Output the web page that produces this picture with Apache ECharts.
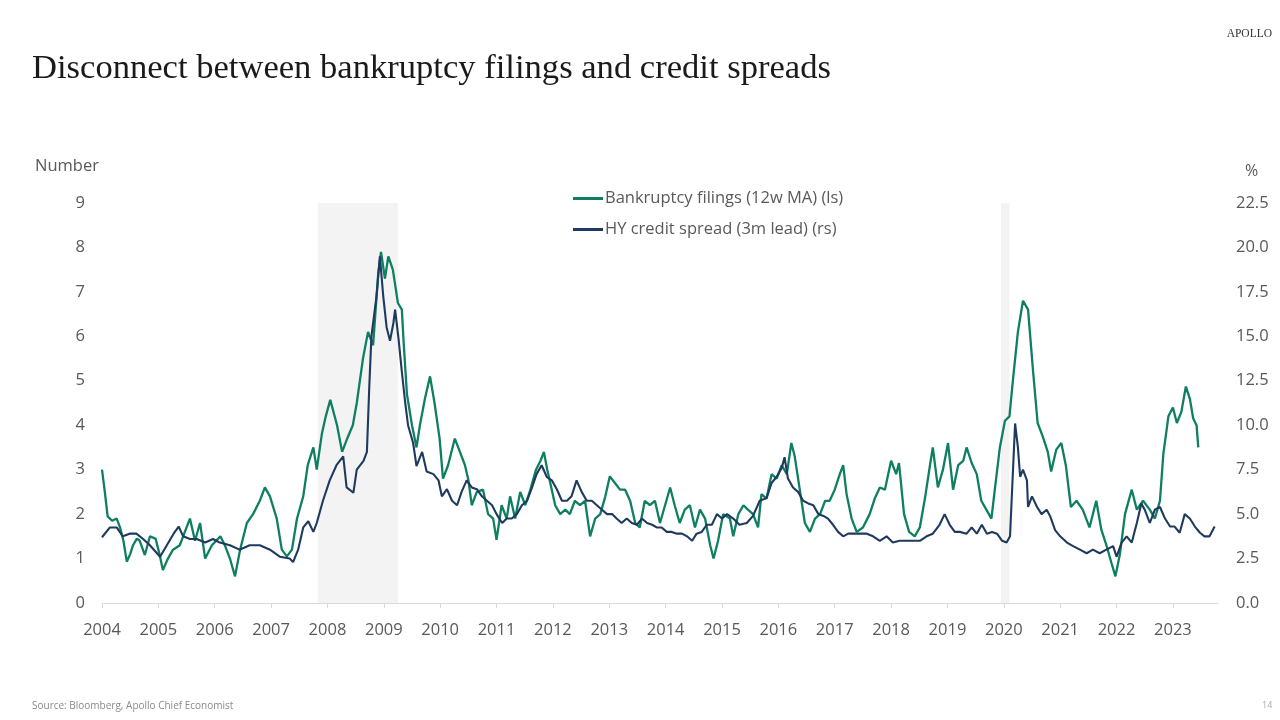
<!DOCTYPE html>
<html>
<head>
<meta charset="utf-8">
<script src="https://cdn.jsdelivr.net/npm/echarts@6/dist/echarts.min.js"></script>
<style>
  html, body { margin: 0; padding: 0; background: #ffffff; }
  #chart { width: 1280px; height: 720px; }
</style>
</head>
<body>
<div id="chart"></div>
<script>
// ---- Data (decimal years) ----
const years = [2004,2005,2006,2007,2008,2009,2010,2011,2012,2013,2014,2015,2016,2017,2018,2019,2020,2021,2022,2023];

const bankruptcyDates = [2004.00,2004.05,2004.10,2004.18,2004.26,2004.32,2004.38,2004.44,2004.50,2004.55,2004.62,2004.67,2004.76,2004.85,2004.95,2005.02,2005.08,2005.17,2005.26,2005.38,2005.47,2005.56,2005.65,2005.74,2005.83,2005.95,2006.10,2006.18,2006.27,2006.36,2006.45,2006.57,2006.68,2006.80,2006.89,2006.98,2007.10,2007.19,2007.28,2007.37,2007.46,2007.57,2007.65,2007.75,2007.81,2007.90,2007.97,2008.05,2008.17,2008.26,2008.35,2008.45,2008.52,2008.63,2008.72,2008.81,2008.90,2008.95,2009.02,2009.08,2009.16,2009.25,2009.32,2009.35,2009.41,2009.50,2009.58,2009.64,2009.73,2009.82,2009.90,2009.99,2010.05,2010.14,2010.26,2010.35,2010.44,2010.50,2010.56,2010.65,2010.76,2010.85,2010.94,2011.00,2011.09,2011.18,2011.24,2011.33,2011.42,2011.51,2011.60,2011.70,2011.78,2011.84,2011.90,2011.98,2012.04,2012.13,2012.22,2012.30,2012.39,2012.48,2012.57,2012.66,2012.75,2012.84,2012.93,2013.01,2013.10,2013.19,2013.28,2013.37,2013.46,2013.54,2013.63,2013.72,2013.81,2013.90,2013.99,2014.08,2014.16,2014.25,2014.34,2014.43,2014.52,2014.61,2014.70,2014.79,2014.85,2014.93,2015.02,2015.14,2015.20,2015.29,2015.38,2015.46,2015.55,2015.64,2015.70,2015.79,2015.88,2015.97,2016.06,2016.15,2016.23,2016.29,2016.38,2016.47,2016.56,2016.65,2016.74,2016.83,2016.91,2017.00,2017.09,2017.15,2017.21,2017.30,2017.39,2017.50,2017.62,2017.71,2017.80,2017.89,2018.00,2018.09,2018.14,2018.23,2018.32,2018.42,2018.51,2018.60,2018.69,2018.74,2018.83,2018.92,2019.01,2019.10,2019.19,2019.28,2019.34,2019.43,2019.52,2019.60,2019.69,2019.78,2019.84,2019.93,2020.02,2020.10,2020.16,2020.25,2020.34,2020.43,2020.52,2020.60,2020.69,2020.78,2020.84,2020.93,2021.02,2021.10,2021.19,2021.29,2021.40,2021.52,2021.64,2021.73,2021.82,2021.91,2021.98,2022.06,2022.15,2022.27,2022.36,2022.47,2022.59,2022.68,2022.77,2022.83,2022.92,2023.00,2023.07,2023.15,2023.23,2023.30,2023.36,2023.42,2023.45];
const bankruptcyValues = [3.0,2.5,1.95,1.85,1.9,1.7,1.4,0.93,1.1,1.3,1.45,1.4,1.08,1.5,1.45,1.1,0.74,1.0,1.2,1.3,1.6,1.9,1.4,1.8,1.0,1.3,1.5,1.3,1.0,0.6,1.2,1.8,2.0,2.3,2.6,2.4,1.9,1.2,1.05,1.2,1.9,2.4,3.1,3.5,3.0,3.8,4.2,4.57,4.0,3.4,3.7,4.0,4.5,5.5,6.1,5.8,7.4,7.9,7.3,7.8,7.5,6.75,6.6,5.9,4.7,4.0,3.5,4.0,4.6,5.1,4.5,3.7,2.8,3.1,3.7,3.4,3.1,2.77,2.2,2.5,2.55,2.0,1.9,1.42,2.2,1.9,2.4,1.9,2.5,2.2,2.55,3.0,3.2,3.4,3.0,2.55,2.2,2.0,2.1,2.0,2.3,2.2,2.3,1.5,1.9,2.0,2.4,2.85,2.7,2.55,2.55,2.3,1.8,1.7,2.3,2.2,2.3,1.8,2.2,2.6,2.2,1.8,2.1,2.2,1.7,2.1,1.9,1.3,1.0,1.4,2.0,1.9,1.5,2.0,2.2,2.1,2.0,1.7,2.45,2.35,2.9,2.8,3.1,2.9,3.6,3.3,2.55,1.8,1.6,1.9,2.0,2.3,2.3,2.55,2.9,3.1,2.45,1.9,1.6,1.7,2.0,2.35,2.6,2.55,3.2,2.9,3.15,2.0,1.6,1.5,1.7,2.35,3.1,3.5,2.6,3.0,3.6,2.55,3.1,3.2,3.5,3.15,2.9,2.3,2.1,1.9,2.55,3.5,4.1,4.2,5.0,6.1,6.8,6.6,5.2,4.05,3.75,3.4,2.96,3.45,3.6,3.1,2.16,2.3,2.1,1.7,2.3,1.65,1.3,0.9,0.6,1.1,2.0,2.55,2.1,2.3,2.1,1.9,2.3,3.35,4.2,4.4,4.05,4.3,4.87,4.6,4.15,4.0,3.5];

const spreadDates = [2004.00,2004.03,2004.14,2004.26,2004.37,2004.49,2004.61,2004.73,2004.85,2005.03,2005.15,2005.27,2005.36,2005.44,2005.56,2005.68,2005.83,2005.97,2006.09,2006.27,2006.44,2006.62,2006.80,2006.98,2007.16,2007.33,2007.39,2007.48,2007.57,2007.66,2007.75,2007.81,2007.92,2008.04,2008.16,2008.28,2008.34,2008.46,2008.52,2008.64,2008.70,2008.74,2008.78,2008.87,2008.93,2008.99,2009.05,2009.11,2009.17,2009.20,2009.26,2009.32,2009.38,2009.43,2009.52,2009.58,2009.68,2009.76,2009.88,2009.97,2010.03,2010.12,2010.21,2010.30,2010.38,2010.47,2010.56,2010.65,2010.74,2010.83,2010.92,2011.00,2011.10,2011.18,2011.27,2011.36,2011.45,2011.54,2011.63,2011.71,2011.80,2011.89,2011.98,2012.07,2012.16,2012.25,2012.33,2012.42,2012.51,2012.60,2012.69,2012.78,2012.87,2012.96,2013.05,2013.13,2013.22,2013.31,2013.40,2013.49,2013.58,2013.67,2013.76,2013.84,2013.93,2014.02,2014.11,2014.20,2014.29,2014.38,2014.47,2014.55,2014.64,2014.73,2014.82,2014.91,2015.00,2015.09,2015.20,2015.31,2015.44,2015.55,2015.67,2015.79,2015.88,2015.97,2016.06,2016.11,2016.17,2016.26,2016.35,2016.44,2016.53,2016.62,2016.71,2016.80,2016.88,2016.97,2017.06,2017.15,2017.24,2017.33,2017.45,2017.57,2017.68,2017.80,2017.92,2018.03,2018.15,2018.27,2018.39,2018.51,2018.63,2018.74,2018.86,2018.95,2019.04,2019.13,2019.22,2019.34,2019.43,2019.52,2019.61,2019.70,2019.79,2019.88,2019.97,2020.05,2020.11,2020.20,2020.25,2020.29,2020.34,2020.41,2020.43,2020.50,2020.59,2020.67,2020.76,2020.82,2020.91,2021.00,2021.12,2021.23,2021.35,2021.47,2021.58,2021.70,2021.82,2021.94,2022.00,2022.09,2022.18,2022.27,2022.36,2022.44,2022.50,2022.59,2022.68,2022.77,2022.86,2022.95,2023.03,2023.12,2023.21,2023.30,2023.39,2023.48,2023.56,2023.65,2023.74];
const spreadValues = [3.7,3.6,4.25,4.25,3.75,3.9,3.9,3.6,3.25,2.6,3.25,3.9,4.3,3.75,3.6,3.6,3.4,3.6,3.4,3.25,3.0,3.25,3.25,3.0,2.6,2.5,2.3,3.0,4.25,4.6,4.0,4.5,5.75,6.9,7.75,8.25,6.5,6.2,7.5,8.0,8.5,12.0,15.0,17.25,19.5,17.25,15.5,14.75,15.75,16.5,14.9,13.0,11.25,10.0,9.0,7.7,8.5,7.4,7.25,6.9,6.0,6.4,5.75,5.5,6.25,6.9,6.5,6.4,6.0,5.75,5.5,5.0,4.5,4.75,4.75,5.0,5.5,5.75,6.5,7.25,7.75,7.1,6.9,6.4,5.75,5.75,6.0,6.9,6.25,5.75,5.75,5.5,5.25,5.0,5.0,4.75,4.5,4.75,4.5,4.4,4.75,4.5,4.4,4.25,4.25,4.0,4.0,3.9,3.9,3.75,3.5,3.9,4.0,4.4,4.4,5.0,4.75,5.0,4.75,4.4,4.5,4.9,5.75,5.9,6.75,7.1,7.6,8.2,7.0,6.5,6.25,5.75,5.6,5.5,5.0,4.9,4.75,4.4,4.0,3.75,3.9,3.9,3.9,3.9,3.75,3.5,3.75,3.4,3.5,3.5,3.5,3.5,3.75,3.9,4.4,5.0,4.4,4.0,4.0,3.9,4.25,3.9,4.4,3.9,4.0,3.9,3.5,3.4,3.75,10.1,8.75,7.1,7.5,6.9,5.4,6.0,5.4,5.0,5.25,4.9,4.1,3.75,3.4,3.2,3.0,2.8,3.0,2.8,3.0,3.2,2.6,3.4,3.75,3.4,4.5,5.6,5.25,4.5,5.25,5.4,4.75,4.3,4.3,3.95,5.0,4.75,4.3,3.95,3.75,3.75,4.3];

const recessions = [[2007.83, 2009.25], [2019.95, 2020.10]];

const leftTicks = [0,1,2,3,4,5,6,7,8,9];
const rightTicks = [0,2.5,5,7.5,10,12.5,15,17.5,20,22.5];

const GREEN = '#0f7f62';
const NAVY = '#1f3a5f';
const TXT = '#595959';
const FONT = '"Open Sans", "Noto Sans", sans-serif';

function pairs(xs, ys) { return xs.map((x, i) => [x, ys[i]]); }

const chart = echarts.init(document.getElementById('chart'));
chart.setOption({
  backgroundColor: '#ffffff',
  animation: false,
  textStyle: { fontFamily: FONT },
  grid: { left: 102, right: 62, top: 203, bottom: 117, containLabel: false },
  graphic: [
    { type: 'text', left: 32, top: 51, style: { text: 'Disconnect between bankruptcy filings and credit spreads', font: '34.6px "Liberation Serif", "DejaVu Serif", serif', fill: '#1a1a1a' } },
    { type: 'text', right: 8, top: 28, style: { text: 'APOLLO', font: '11.5px "Liberation Serif", serif', fill: '#333', letterSpacing: 3.2 } },
    { type: 'text', left: 35, top: 158, style: { text: 'Number', font: '16.5px ' + FONT, fill: TXT } },
    { type: 'text', left: 1245, top: 163, style: { text: '%', font: '16px ' + FONT, fill: TXT } },
    { type: 'text', left: 32, top: 701, style: { text: 'Source: Bloomberg, Apollo Chief Economist', font: '10px ' + FONT, fill: '#8a8a8a' } },
    { type: 'text', left: 1262, top: 701, style: { text: '14', font: '9px ' + FONT, fill: '#aaa' } }
  ],
  legend: {
    orient: 'vertical', left: 568, top: 185, itemGap: 14,
    itemWidth: 30, itemHeight: 3,
    textStyle: { color: TXT, fontSize: 16.5, fontFamily: FONT, padding: [0, 0, 0, -3] },
    data: [
      { name: 'Bankruptcy filings (12w MA) (ls)', icon: 'rect' },
      { name: 'HY credit spread (3m lead) (rs)', icon: 'rect' }
    ]
  },
  xAxis: {
    type: 'value', min: 2004, max: 2023.8,
    axisLine: { show: true, lineStyle: { color: '#d9d9d9', width: 1 } },
    axisTick: { show: true, length: 5, lineStyle: { color: '#d9d9d9' }, customValues: years },
    axisLabel: { color: TXT, fontSize: 16.5, margin: 19, customValues: years, formatter: v => String(Math.round(v)) },
    splitLine: { show: false }
  },
  yAxis: [
    {
      type: 'value', min: 0, max: 9, interval: 1, position: 'left',
      axisLine: { show: false }, axisTick: { show: false }, splitLine: { show: false },
      axisLabel: { color: TXT, fontSize: 16.5, margin: 17, customValues: leftTicks }
    },
    {
      type: 'value', min: 0, max: 22.5, interval: 2.5, position: 'right',
      axisLine: { show: false }, axisTick: { show: false }, splitLine: { show: false },
      axisLabel: { color: TXT, fontSize: 16.5, margin: 18, customValues: rightTicks, formatter: v => v.toFixed(1) }
    }
  ],
  series: [
    {
      name: 'Bankruptcy filings (12w MA) (ls)', type: 'line', yAxisIndex: 0,
      data: pairs(bankruptcyDates, bankruptcyValues),
      symbol: 'none', z: 3,
      lineStyle: { color: GREEN, width: 2.3 }, itemStyle: { color: GREEN },
      markArea: {
        silent: true,
        itemStyle: { color: 'rgba(215,215,215,0.3)' },
        data: recessions.map(r => [{ xAxis: r[0] }, { xAxis: r[1] }])
      }
    },
    {
      name: 'HY credit spread (3m lead) (rs)', type: 'line', yAxisIndex: 1,
      data: pairs(spreadDates, spreadValues),
      symbol: 'none', z: 4,
      lineStyle: { color: NAVY, width: 2.1 }, itemStyle: { color: NAVY }
    }
  ]
});
</script>
</body>
</html>
